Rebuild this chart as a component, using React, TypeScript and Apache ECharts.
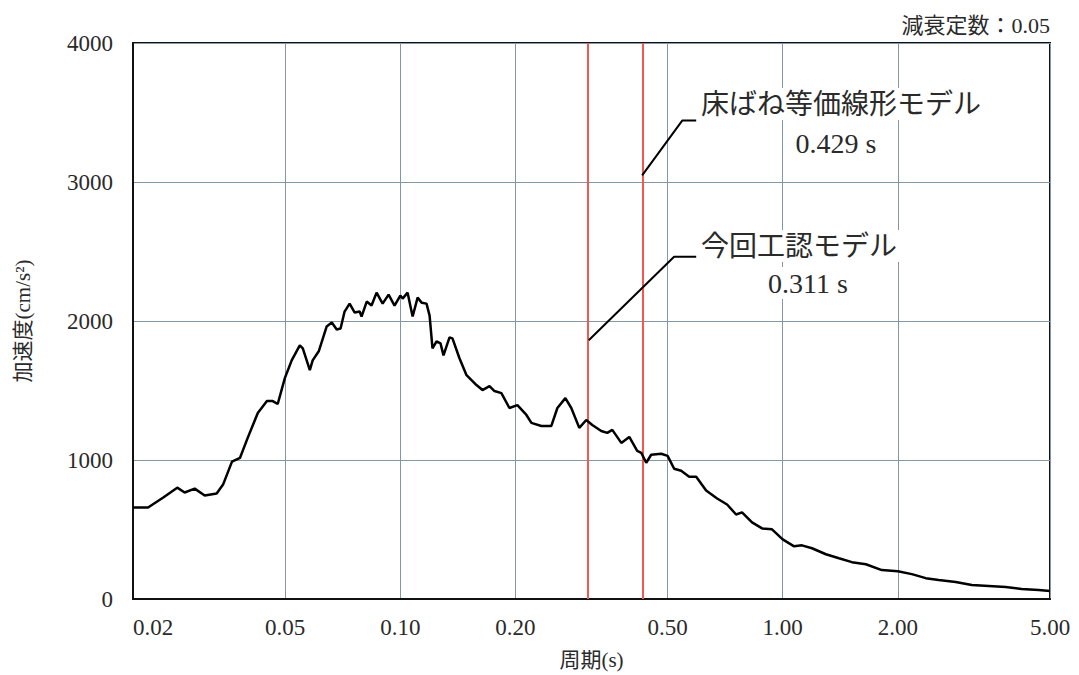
import React, { useEffect, useRef } from "react";
import * as echarts from "echarts";

const periods = [
  0.02, 0.0219, 0.024, 0.0261, 0.0273, 0.029, 0.0308, 0.0331, 0.0344, 0.0363,
  0.0381, 0.0399, 0.0424, 0.0448, 0.0464, 0.0478, 0.0499, 0.052, 0.0546, 0.0556,
  0.058, 0.059, 0.0612, 0.0642, 0.0662, 0.0682, 0.0698, 0.0715, 0.0737, 0.076,
  0.0783, 0.0792, 0.0817, 0.0841, 0.0867, 0.0899, 0.0932, 0.0966, 0.1, 0.1014,
  0.1045, 0.1077, 0.111, 0.1137, 0.1171, 0.1193, 0.1214, 0.1244, 0.1274, 0.1297,
  0.1345, 0.1369, 0.1428, 0.149, 0.1582, 0.164, 0.1711, 0.1763, 0.1838, 0.1929,
  0.2024, 0.2137, 0.2202, 0.2338, 0.2483, 0.2575, 0.2702, 0.28, 0.2938, 0.3064,
  0.3177, 0.3354, 0.3478, 0.3584, 0.3784, 0.397, 0.4164, 0.4266, 0.4396, 0.453,
  0.4812, 0.5, 0.5202, 0.5426, 0.5694, 0.594, 0.6306, 0.6738, 0.7154, 0.7552,
  0.7828, 0.8314, 0.8832, 0.9376, 1.0, 1.071, 1.123, 1.193, 1.297, 1.403,
  1.517, 1.65, 1.816, 2.0, 2.176, 2.366, 2.558, 2.834, 3.122, 3.458,
  3.828, 4.216, 4.668, 5.0,
];

const accel = [
  658, 658, 730, 801, 766, 794, 744, 759, 823, 988,
  1016, 1159, 1338, 1424, 1424, 1403, 1589, 1717, 1825, 1803,
  1646, 1717, 1782, 1961, 1989, 1939, 1946, 2068, 2125, 2061,
  2068, 2032, 2140, 2111, 2204, 2125, 2190, 2111, 2183, 2161,
  2204, 2032, 2168, 2132, 2125, 2039, 1803, 1853, 1839, 1753,
  1882, 1875, 1732, 1610, 1539, 1503, 1531, 1496, 1481, 1374,
  1395, 1324, 1267, 1245, 1245, 1374, 1445, 1374, 1231, 1288,
  1252, 1209, 1195, 1217, 1123, 1166, 1066, 1052, 980, 1038,
  1045, 1030, 937, 923, 880, 880, 780, 723, 680, 608,
  623, 551, 508, 501, 429, 379, 386, 365, 322, 293,
  265, 250, 208, 200, 179, 150, 136, 122, 100, 93,
  86, 72, 64, 57,
];

const xTickValues = [0.02, 0.05, 0.1, 0.2, 0.5, 1, 2, 5];
const modelPeriods = [0.311, 0.429];
const leaderUpper = [
  [0.429, 3048],
  [0.546, 3442],
  [0.594, 3442],
];
const leaderLower = [
  [0.311, 1861],
  [0.52, 2462],
  [0.594, 2462],
];

export default function App() {
  const ref = useRef<HTMLDivElement>(null);

  useEffect(() => {
    document.body.style.margin = "0";
    const chart = echarts.init(ref.current as HTMLDivElement, null, {
      renderer: "svg",
    });
    const serif = "'Liberation Serif', 'Noto Sans CJK JP', serif";
    const gridColor = "#8497a6";
    const textColor = "#2a2a2a";

    const textEl = (
      text: string,
      x: number,
      y: number,
      size: number,
      align: string
    ) => ({
      type: "text",
      x,
      y,
      z: 100,
      style: {
        text,
        fontFamily: serif,
        fontSize: size,
        fill: textColor,
        align,
        textAlign: align,
        verticalAlign: "middle",
        textVerticalAlign: "middle",
        backgroundColor: "#fff",
        padding: [2, 4],
      },
    });

    chart.setOption({
      animation: false,
      backgroundColor: "#fff",
      grid: {
        left: 133,
        right: 29,
        top: 43,
        bottom: 73,
        show: true,
        borderColor: "#111",
        borderWidth: 2,
        backgroundColor: "#fff",
      },
      xAxis: {
        type: "log",
        logBase: 10,
        min: 0.02,
        max: 5,
        name: "周期(s)",
        nameLocation: "middle",
        nameGap: 50,
        nameTextStyle: { fontFamily: serif, fontSize: 21, color: textColor },
        axisLine: { show: true, lineStyle: { color: "#111", width: 2 } },
        axisTick: { show: false, customValues: xTickValues },
        axisLabel: {
          customValues: xTickValues,
          formatter: (v: number) => Number(v).toFixed(2),
          fontFamily: serif,
          fontSize: 23,
          color: textColor,
          margin: 17,
          alignMinLabel: "left",
        },
        splitLine: { show: true, lineStyle: { color: gridColor, width: 1 } },
        minorTick: { show: false },
        minorSplitLine: { show: false },
      },
      yAxis: {
        type: "value",
        min: 0,
        max: 4000,
        interval: 1000,
        name: "加速度(cm/s²)",
        nameLocation: "middle",
        nameGap: 100,
        nameRotate: 90,
        nameTextStyle: { fontFamily: serif, fontSize: 21, color: textColor },
        axisLine: { show: true, lineStyle: { color: "#111", width: 2 } },
        axisTick: { show: false },
        axisLabel: {
          formatter: (v: number) => String(v),
          fontFamily: serif,
          fontSize: 23,
          color: textColor,
          margin: 20,
        },
        splitLine: { show: true, lineStyle: { color: gridColor, width: 1 } },
      },
      graphic: [
        {
          type: "text",
          right: 29,
          top: 14,
          z: 100,
          style: {
            text: "減衰定数：0.05",
            fontFamily: serif,
            fontSize: 22,
            fill: textColor,
          },
        },
        textEl("床ばね等価線形モデル", 697, 104, 28, "left"),
        textEl("0.429 s", 836, 143, 28, "center"),
        textEl("今回工認モデル", 697, 246, 28, "left"),
        textEl("0.311 s", 808, 283, 28, "center"),
      ],
      series: [
        {
          type: "line",
          data: periods.map((p, i) => [p, accel[i]]),
          showSymbol: false,
          symbol: "none",
          lineStyle: { color: "#000", width: 2.5 },
          z: 5,
          markLine: {
            silent: true,
            symbol: "none",
            label: { show: false },
            lineStyle: { color: "#f25a50", width: 2, type: "solid" },
            data: modelPeriods.map((p) => ({ xAxis: p })),
          },
        },
        {
          type: "line",
          data: leaderUpper,
          showSymbol: false,
          symbol: "none",
          lineStyle: { color: "#000", width: 2 },
          z: 6,
        },
        {
          type: "line",
          data: leaderLower,
          showSymbol: false,
          symbol: "none",
          lineStyle: { color: "#000", width: 2 },
          z: 6,
        },
      ],
    });

    return () => chart.dispose();
  }, []);

  return (
    <div
      ref={ref}
      style={{ width: 1079, height: 675, position: "absolute", left: 0, top: 0 }}
    />
  );
}
